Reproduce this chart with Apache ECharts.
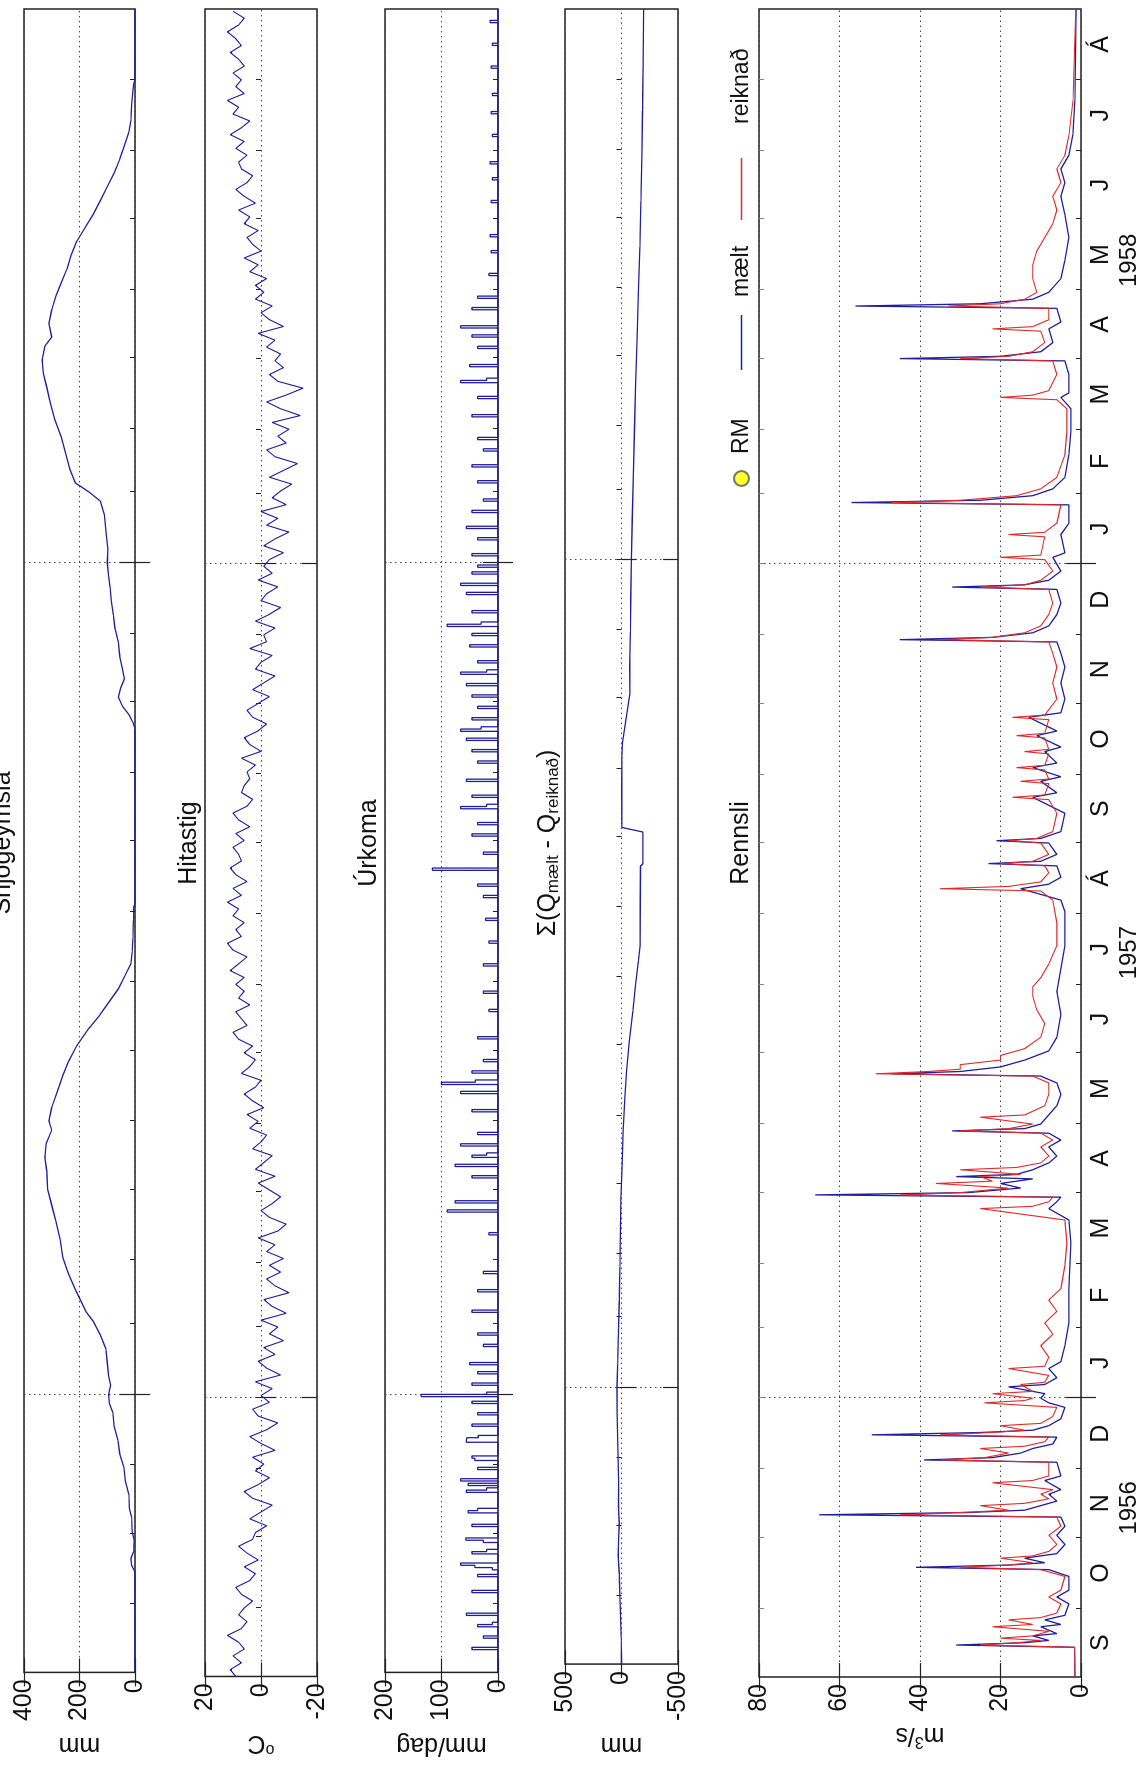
<!DOCTYPE html>
<html><head><meta charset="utf-8">
<script src="https://cdn.jsdelivr.net/npm/echarts@6/dist/echarts.min.js"></script>
<style>
html,body{margin:0;padding:0;width:1143px;height:1765px;overflow:hidden;background:#fff}
#chart{position:absolute;left:0;top:0;width:1765px;height:1143px;transform-origin:0 0;transform:translateY(1765px) rotate(-90deg);}
</style></head><body><div id="chart"></div>
<script>
// day index 0 = 1 Sep 1956, 730 = 1 Sep 1958
const monthStarts = [0,30,61,91,122,153,181,212,242,273,303,334,365,395,426,456,487,518,546,577,607,638,668,699,730];
const monthLabels = ['S','O','N','D','J','F','M','A','M','J','J','Á','S','O','N','D','J','F','M','A','M','J','J','Á'];
const yearStarts = [122,487];
const yearLabels = ['1956','1957','1958'];
const yearLabelDays = [74,317,620];

const snow = [[0,0],[44,0],[47,12],[50,15],[53,5],[58,3],[62,10],[68,12],[72,20],[78,22],[84,35],[90,40],[96,55],[102,62],[108,75],[114,80],[118,92],[122,95],[126,88],[130,95],[136,100],[142,105],[148,125],[154,150],[158,175],[163,195],[168,215],[175,240],[182,260],[190,270],[198,285],[205,300],[212,315],[220,318],[226,325],[232,320],[238,300],[242,310],[248,300],[255,280],[262,260],[268,240],[275,210],[282,170],[288,130],[294,95],[300,60],[306,35],[311,15],[316,10],[322,8],[330,6],[336,5],[337,0],[414,0],[417,8],[420,20],[424,45],[428,60],[432,52],[436,38],[440,45],[446,55],[452,60],[458,72],[464,78],[470,85],[476,90],[482,96],[487,100],[493,98],[500,104],[508,110],[514,125],[518,165],[522,215],[528,235],[535,250],[542,265],[550,290],[557,305],[564,318],[570,330],[576,335],[582,325],[586,300],[592,310],[598,300],[604,285],[610,265],[616,245],[622,230],[628,210],[634,180],[640,150],[646,125],[652,100],[658,75],[664,55],[670,38],[676,22],[681,15],[688,12],[694,8],[697,5],[699,0],[730,0]];
// temperature read every 3 days from day 0
const tempStep = 3;
const tempValues = [
 9,11,7,10,6,8,12,7,5,8,
 6,3,7,9,4,2,6,1,5,8,3,
 2,-2,4,0,-4,3,6,1,-3,2,
 -1,3,-5,0,4,-2,-6,1,3,-3,
 0,-4,2,-7,-2,1,-5,-1,-8,-3,
 -6,0,-9,-4,-1,-10,-5,-2,-7,-3,
 -8,-2,-5,1,-6,-9,-3,0,-4,-7,
 -3,1,-5,2,-1,-4,3,0,-2,4,
 1,5,-1,3,6,2,0,7,4,2,
 6,3,8,10,5,7,9,4,8,6,
 9,6,11,8,5,10,12,7,9,6,10,
 8,12,7,10,5,9,11,7,8,10,
 6,9,4,8,10,5,3,7,6,4,
 5,2,7,0,4,6,1,-2,3,5,
 1,-3,3,-1,-5,2,0,-4,4,-2,
 -1,-5,2,-3,-7,0,-2,-6,1,-4,-1,
 -3,-8,-1,-5,-10,-2,-6,0,-9,-4,
 -7,-11,-3,-8,-13,-5,-2,-9,-6,
 -10,-4,-14,-7,-2,-9,-15,-6,-3,-8,-5,
 -7,-2,-5,1,-8,-3,0,-4,2,-1,
 2,-2,4,1,6,0,3,5,1,6,
 4,8,2,6,9,5,3,7,8,5,
 9,6,11,7,4,10,8,12,6,9,7,
 10,6,8,11,7,9,12,8,6,10];
const precip = [[0,0],[10,46],[11,0],[15,26],[16,0],[20,36],[21,10],[22,0],[25,56],[26,0],[35,46],[36,0],[42,36],[43,0],[45,10],[46,41],[47,66],[48,0],[52,46],[53,20],[54,0],[57,26],[58,57],[59,0],[64,46],[65,0],[70,53],[71,36],[72,0],[79,56],[80,20],[81,0],[82,53],[83,0],[84,66],[85,0],[89,36],[90,0],[93,41],[94,46],[95,0],[101,56],[102,55],[103,35],[104,0],[108,46],[109,0],[113,36],[114,0],[118,46],[119,0],[121,136],[122,20],[123,0],[126,46],[127,0],[131,36],[132,0],[135,50],[136,0],[143,26],[144,0],[148,36],[149,0],[158,46],[159,0],[167,36],[168,0],[175,26],[176,0],[192,16],[193,0],[202,90],[203,0],[206,76],[207,0],[217,46],[218,0],[222,76],[223,0],[226,46],[227,20],[228,0],[231,66],[232,0],[236,36],[237,0],[246,46],[247,0],[254,66],[255,0],[258,100],[259,40],[260,0],[263,46],[264,0],[268,26],[269,0],[278,36],[279,0],[290,16],[291,0],[298,26],[299,0],[310,26],[311,0],[320,16],[321,0],[330,22],[331,0],[340,26],[341,0],[345,36],[346,0],[352,116],[353,0],[359,26],[360,0],[367,46],[368,0],[372,36],[373,0],[379,66],[380,20],[381,0],[384,46],[385,0],[391,56],[392,0],[399,36],[400,0],[404,46],[405,0],[409,56],[410,0],[413,66],[414,30],[415,0],[418,46],[419,0],[423,36],[424,0],[428,46],[429,0],[433,56],[434,0],[438,66],[439,20],[440,0],[443,36],[444,0],[450,50],[451,0],[455,46],[456,0],[459,90],[460,30],[461,0],[465,46],[466,0],[473,56],[474,0],[477,66],[478,0],[482,46],[483,0],[485,36],[486,0],[490,46],[491,0],[497,36],[498,0],[502,56],[503,0],[509,46],[510,0],[514,26],[515,0],[522,36],[523,0],[529,46],[530,0],[536,26],[537,0],[541,36],[542,0],[551,46],[552,0],[559,36],[560,0],[566,66],[567,20],[568,0],[573,50],[574,0],[581,36],[582,0],[586,46],[587,0],[590,66],[591,0],[598,46],[599,0],[603,36],[604,0],[613,16],[614,0],[623,12],[624,0],[630,14],[631,0],[645,12],[646,0],[655,10],[656,0],[662,14],[663,0],[674,10],[675,0],[684,12],[685,0],[692,10],[693,0],[704,12],[705,0],[714,10],[715,0],[724,14],[725,0],[730,0]];
const sumDiff = [[0,0],[12,3],[20,8],[30,15],[40,20],[48,30],[55,25],[62,20],[70,28],[80,25],[90,30],[100,35],[110,38],[122,40],[132,34],[145,28],[160,20],[175,14],[190,10],[205,5],[220,-5],[235,-15],[250,-30],[262,-45],[275,-70],[288,-100],[300,-125],[310,-150],[317,-164],[335,-166],[352,-168],[353,-190],[367,-190],[369,-3],[385,-2],[400,-4],[406,-8],[412,-25],[420,-50],[428,-75],[440,-72],[455,-78],[470,-82],[487,-88],[505,-95],[525,-105],[545,-115],[565,-125],[585,-138],[605,-150],[625,-162],[645,-172],[665,-180],[685,-186],[705,-191],[730,-196]];
const flowMeasured = [[0,1.5],[13,1.6],[14,31],[15,14],[16,8],[18,12],[19,6],[22,10],[23,5],[25,9],[27,4],[32,3],[35,6],[38,3],[44,3],[47,8],[48,41],[49,18],[50,9],[52,14],[54,6],[58,4],[62,6],[66,4],[70,5],[71,65],[72,28],[73,14],[75,10],[77,6],[80,8],[82,5],[86,9],[88,5],[94,6],[95,39],[96,22],[98,15],[100,12],[102,7],[105,6],[106,52],[107,25],[108,12],[110,8],[113,5],[118,4],[120,8],[122,10],[124,9],[127,18],[128,9],[131,6],[135,8],[138,5],[145,4],[155,3],[170,3],[190,2.5],[200,3],[205,8],[208,6],[210,5],[211,66],[212,28],[214,15],[216,20],[218,12],[219,31],[220,16],[222,12],[225,8],[228,6],[232,8],[235,5],[238,8],[239,32],[240,14],[242,10],[246,8],[250,6],[255,5],[260,6],[263,10],[264,47],[265,30],[267,20],[270,14],[274,8],[280,6],[290,5],[300,6],[310,5],[320,4],[335,4],[340,5],[345,15],[347,8],[350,5],[355,6],[356,23],[357,10],[360,6],[365,8],[366,21],[367,10],[370,5],[378,4],[385,12],[387,6],[392,10],[394,5],[398,12],[400,6],[405,9],[407,5],[412,11],[414,6],[420,13],[422,5],[428,4],[435,5],[442,4],[448,5],[453,6],[454,45],[455,22],[457,12],[460,8],[465,6],[470,5],[476,6],[477,32],[478,14],[480,8],[484,5],[490,7],[492,4],[500,5],[505,3],[513,3],[514,57],[515,25],[517,12],[520,7],[525,4],[535,3],[545,2.5],[555,2.5],[560,5],[562,3],[570,3],[576,4],[577,45],[578,20],[580,10],[584,7],[590,8],[593,5],[599,6],[600,56],[601,25],[603,12],[606,8],[612,5],[620,4],[630,3],[640,4],[648,5],[654,4],[660,5],[666,3],[675,2],[690,1.5],[730,1.2]];
const flowComputed = [[0,1.5],[13,1.6],[14,25],[15,16],[16,10],[17,20],[18,12],[20,8],[22,22],[23,12],[25,18],[26,10],[28,6],[32,5],[35,8],[38,5],[44,4],[47,10],[48,30],[49,18],[50,12],[52,20],[53,12],[55,8],[58,6],[62,8],[66,5],[70,6],[71,45],[72,30],[73,18],[75,25],[76,14],[78,8],[80,10],[82,7],[85,22],[86,12],[88,8],[94,8],[95,35],[96,24],[98,18],[100,25],[101,14],[103,9],[105,8],[106,35],[107,22],[108,14],[110,20],[111,10],[114,7],[118,6],[120,24],[121,14],[122,12],[124,22],[125,12],[128,15],[129,9],[132,8],[135,18],[136,9],[140,8],[145,10],[150,7],[155,9],[160,6],[165,8],[170,5],[180,4],[190,3.5],[200,4],[205,25],[206,12],[208,8],[210,7],[211,45],[212,30],[214,18],[216,36],[217,22],[219,25],[220,15],[222,30],[223,16],[225,10],[228,8],[232,10],[235,7],[238,10],[239,30],[240,18],[242,12],[245,25],[246,14],[250,9],[255,8],[260,8],[263,12],[264,51],[265,38],[266,30],[268,30],[270,20],[272,20],[275,14],[280,10],[286,9],[292,11],[298,12],[302,12],[306,10],[312,8],[320,6],[330,6],[340,7],[344,10],[345,35],[346,18],[348,10],[352,8],[355,9],[356,20],[357,12],[360,8],[365,10],[366,18],[367,11],[370,7],[378,6],[384,8],[385,17],[386,9],[391,8],[392,15],[393,8],[397,9],[398,16],[399,9],[404,8],[405,14],[406,8],[411,9],[412,16],[413,9],[419,8],[420,17],[421,9],[428,6],[435,7],[442,6],[448,7],[453,8],[454,35],[455,22],[457,14],[460,10],[465,8],[470,7],[476,8],[477,25],[478,14],[480,10],[484,7],[489,9],[490,20],[491,10],[499,9],[500,18],[501,9],[505,6],[513,5],[514,47],[515,30],[517,16],[520,10],[525,6],[535,4],[545,3.5],[555,3.5],[559,6],[560,20],[561,12],[563,8],[570,6],[576,7],[577,30],[578,18],[580,12],[584,9],[589,10],[590,22],[591,12],[594,8],[599,8],[600,33],[601,20],[603,14],[606,11],[612,12],[618,12],[624,11],[630,9],[636,7],[642,6],[648,7],[654,5],[660,6],[666,4],[675,3],[690,2],[730,1.3]];

const chart = echarts.init(document.getElementById('chart'), null, {renderer:'canvas'});
const FONT = 'Liberation Sans, Arial, Helvetica, sans-serif';
const BLUE = '#1f1f9e', RED = '#e02a2a', AX = '#222';
const L = 88, R = 9;
const grids = [
  {top:24,height:111},{top:205,height:112},{top:385,height:113},{top:565,height:113},{top:759,height:322}
];
const yCfg = [
  {min:0,max:400,interval:200,name:'mm'},
  {min:-20,max:20,interval:20,name:'{sup|o}C'},
  {min:0,max:200,interval:100,name:'mm/dag'},
  {min:-500,max:500,interval:500,name:'mm'},
  {min:0,max:80,interval:20,name:'m{sup|3}/s'}
];
const monthMid = monthLabels.map((m,i)=>(monthStarts[i]+monthStarts[i+1])/2);
const innerStarts = monthStarts.slice(1,-1);
const tempData = tempValues.map((v,i)=>[i*tempStep, v]);

const xAxes = [], yAxes = [], xIdx = [];
grids.forEach((g,i)=>{
  const base = {gridIndex:i,type:'value',min:0,max:730,axisLine:{show:false},splitLine:{show:false},axisLabel:{show:false},axisTick:{show:false}};
  xIdx.push(xAxes.length);
  xAxes.push(Object.assign({},base,{position:'bottom',
    axisTick:{show:true,inside:true,length:5,customValues:innerStarts,lineStyle:{color:AX,width:1}},
    axisLabel:{show:i===4,customValues:monthMid,margin:8,fontSize:25,fontFamily:FONT,color:'#111',
      formatter:(v)=>{const k=monthMid.indexOf(v);return k>=0?monthLabels[k]:'';}}}));
  xAxes.push(Object.assign({},base,{position:'top',
    axisTick:{show:true,inside:true,length:15,customValues:yearStarts,lineStyle:{color:AX,width:1.2}},
    splitLine:{show:true,lineStyle:{color:'#444',width:1,type:[1.5,3.5]}}}));
  xAxes.push(Object.assign({},base,{position:'bottom',
    axisTick:{show:true,inside:true,length:15,customValues:yearStarts,lineStyle:{color:AX,width:1.2}}}));
  if(i===4){
    xAxes.push(Object.assign({},base,{position:'top',
      axisTick:{show:true,inside:true,length:5,customValues:innerStarts,lineStyle:{color:'#888',width:1}}}));
    xAxes.push(Object.assign({},base,{position:'bottom',
      axisLabel:{show:true,customValues:yearLabelDays,margin:36,fontSize:24,fontFamily:FONT,color:'#111',
        formatter:(v)=>{const k=yearLabelDays.indexOf(v);return k>=0?yearLabels[k]:'';}}}));
  }
  const c = yCfg[i];
  yAxes.push({gridIndex:i,type:'value',position:'left',min:c.min,max:c.max,interval:c.interval,
    axisLine:{show:false},
    axisTick:{show:true,inside:true,length:14,lineStyle:{color:AX,width:1.2}},
    splitLine:{show:true,lineStyle:{color:'#444',width:1,type:[1.5,3.5]}},
    axisLabel:{show:true,margin:7,fontSize:25,fontFamily:FONT,color:'#111'},
    name:c.name,nameLocation:'middle',nameGap:34,nameRotate:90,
    nameTextStyle:{fontSize:25,fontFamily:FONT,color:'#111',rich:{sup:{fontSize:16,verticalAlign:'top',padding:[0,0,12,0],fontFamily:FONT}}}});
  yAxes.push({gridIndex:i,type:'value',position:'right',min:c.min,max:c.max,interval:c.interval,
    axisLine:{show:false},axisLabel:{show:false},splitLine:{show:false},
    axisTick:{show:true,inside:true,length:14,lineStyle:{color:AX,width:1.2}}});
});
const yIdx = [0,2,4,6,8];

const lineBase = {type:'line',symbol:'none',animation:false,silent:true};
const series = [
  Object.assign({},lineBase,{name:'snow',xAxisIndex:xIdx[0],yAxisIndex:yIdx[0],data:snow,lineStyle:{color:BLUE,width:1.3}}),
  Object.assign({},lineBase,{name:'temp',xAxisIndex:xIdx[1],yAxisIndex:yIdx[1],data:tempData,lineStyle:{color:BLUE,width:1.1}}),
  Object.assign({},lineBase,{name:'precip',xAxisIndex:xIdx[2],yAxisIndex:yIdx[2],data:precip,step:'end',lineStyle:{color:BLUE,width:1.3}}),
  Object.assign({},lineBase,{name:'sum',xAxisIndex:xIdx[3],yAxisIndex:yIdx[3],data:sumDiff,lineStyle:{color:BLUE,width:1.3}}),
  {type:'scatter',name:'RM',xAxisIndex:xIdx[4],yAxisIndex:yIdx[4],data:[],symbolSize:15,itemStyle:{color:'#ffff00',borderColor:'#555',borderWidth:1}},
  Object.assign({},lineBase,{name:'mælt',xAxisIndex:xIdx[4],yAxisIndex:yIdx[4],data:flowMeasured,itemStyle:{color:BLUE},lineStyle:{color:BLUE,width:1.3},z:3}),
  Object.assign({},lineBase,{name:'reiknað',xAxisIndex:xIdx[4],yAxisIndex:yIdx[4],data:flowComputed,itemStyle:{color:RED},lineStyle:{color:RED,width:1.1},z:4})
];

const legendText = {fontSize:23,fontFamily:FONT,color:'#111'};
const legends = [
  {data:[{name:'RM',icon:'circle'}],left:1278,top:730,itemWidth:15,itemHeight:15,padding:0,textStyle:Object.assign({padding:[0,0,0,12]},legendText),selectedMode:false},
  {data:[{name:'mælt',icon:'rect'}],left:1395,top:730,itemWidth:55,itemHeight:1.6,padding:0,textStyle:Object.assign({padding:[0,0,0,13]},legendText),selectedMode:false},
  {data:[{name:'reiknað',icon:'rect'}],left:1545,top:730,itemWidth:62,itemHeight:1.4,padding:0,textStyle:Object.assign({padding:[0,0,0,29]},legendText),selectedMode:false}
];

const cx = L + (1765 - L - R)/2;
const titleStyle = (t,y,rich)=>({type:'text',x:cx,y:y,silent:true,style:{text:t,fontSize:25,fontFamily:FONT,fill:'#111',align:'center',verticalAlign:'bottom',rich:rich}});
const graphic = [
  titleStyle('Snjógeymsla',16),
  titleStyle('Hitastig',202),
  titleStyle('Úrkoma',382),
  titleStyle('Σ(Q{sub|mælt} - Q{sub|reiknað})',562,{sub:{fontSize:17,fontFamily:FONT,padding:[10,0,0,0],verticalAlign:'bottom'}}),
  titleStyle('Rennsli',754)
];

chart.setOption({
  animation:false,
  grid: grids.map(g=>({left:L,right:R,top:g.top,height:g.height,show:true,borderColor:AX,borderWidth:1.5,backgroundColor:'transparent'})),
  xAxis:xAxes, yAxis:yAxes, series:series, legend:legends, graphic:graphic
});
</script></body></html>
